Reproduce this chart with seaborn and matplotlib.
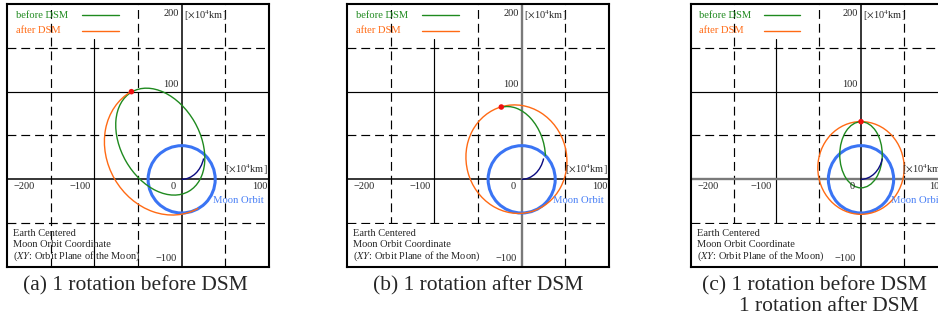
import matplotlib
matplotlib.use("Agg")
import matplotlib.pyplot as plt
import seaborn as sns
import pandas as pd
from matplotlib.patches import Ellipse, Arc, Rectangle
from matplotlib.transforms import offset_copy

# ---------------- data (units: x10^4 km) ----------------
X_LIM = [-200, 100]
Y_LIM = [-100, 200]
x_tick_values = [-200, -100, 0, 100]
x_tick_labels = ["\u2212200", "\u2212100", "0", "100"]
y_tick_values = [200, 100, -100]
y_tick_labels = ["200", "100", "\u2212100"]
solid_grid_x = [-100]
solid_grid_y = [100]
dashed_grid_x = [-150, -50, 50]
dashed_grid_y = [150, 50, -50]

moon_orbit_radius = 38.4
# Earth -> Moon transfer arc: cx, cy, width, height, theta1, theta2
transfer_arc = [0.0, 32.0, 52.0, 64.0, 270.0, 342.0]

# orbits: cx, cy, width, height, angle(deg) [, theta1, theta2]
green_a = [-24.5, 43.0, 130.8, 90.4, 120.0]
orange_a = [-19.4, 33.6, 153.6, 132.6, 120.0, 0.0, 180.0]
dsm_a_x = [-57.5]
dsm_a_y = [100.0]

green_b = [-9.7, 33.9, 100.2, 71.2, 106.0, 243.0, 360.0]
orange_b = [-6.0, 23.0, 124.4, 115.0, 105.0]
dsm_b_x = [-23.3]
dsm_b_y = [82.5]

green_c = [0.0, 28.0, 75.4, 50.0, 90.0]
orange_c = [0.0, 13.0, 105.8, 101.6, 90.0]
dsm_c_x = [0.0]
dsm_c_y = [65.8]

legend_labels = ["before DSM", "after DSM"]
note_lines = ["Earth Centered", "Moon Orbit Coordinate",
              r"($\mathit{XY}$: Orbit Plane of the Moon)"]
unit_label = r"[$\times$10$^{4}$km]"
captions = ["(a) 1 rotation before DSM", "(b) 1 rotation after DSM",
            "(c) 1 rotation before DSM", "1 rotation after DSM"]

# ---------------- style ----------------
sns.set_theme(style="white")
plt.rcParams["font.family"] = ["Liberation Serif", "DejaVu Serif"]
plt.rcParams["mathtext.fontset"] = "stix"

GREEN = "#1f8a1f"
ORANGE = "#ff6a14"
BLUE = "#3a74f4"
BLUE_TXT = "#4a80f6"
NAVY = "#0a0a80"
RED = "#ee1111"
FS = 7.5

W, H = 938, 322
fig = plt.figure(figsize=(W / 100, H / 100), dpi=100)


def px_rect(left, right, top, bottom):
    return [left / W, (H - bottom) / H, (right - left) / W, (bottom - top) / H]


def draw_panel(ax, axis_gray, white_box):
    ax.set_xlim(X_LIM)
    ax.set_ylim(Y_LIM)
    ax.set_xticks([])
    ax.set_yticks([])
    for s in ax.spines.values():
        s.set_color("black")
        s.set_linewidth(1.5)
        s.set_zorder(10)
    dash = (0, (7.5, 4.2))
    for v in dashed_grid_x:
        ax.axvline(v, color="black", lw=0.85, ls=dash, zorder=1)
    for v in dashed_grid_y:
        ax.axhline(v, color="black", lw=0.85, ls=dash, zorder=1)
    for v in solid_grid_x:
        ax.plot([v, v], [Y_LIM[0], 160], color="black", lw=0.85, zorder=1)
    for v in solid_grid_y:
        ax.axhline(v, color="black", lw=0.85, zorder=1)
    if white_box:
        ax.add_patch(Rectangle((X_LIM[0], Y_LIM[0]), 0 - X_LIM[0], -50 - Y_LIM[0] - 1,
                               facecolor="white", edgecolor="none", zorder=1.5))
    xc = "#7a7a7a" if axis_gray == "x" else "black"
    yc = "#7a7a7a" if axis_gray == "y" else "black"
    ax.axhline(0, color=xc, lw=1.7 if axis_gray == "x" else 1.1, zorder=2)
    ax.axvline(0, color=yc, lw=1.7 if axis_gray == "y" else 1.1, zorder=2)

    # moon orbit
    ax.add_patch(Ellipse((0, 0), 2 * moon_orbit_radius, 2 * moon_orbit_radius,
                         fill=False, edgecolor=BLUE, lw=2.2, zorder=3))
    # transfer
    cx, cy, w, h, t1, t2 = transfer_arc
    ax.add_patch(Arc((cx, cy), w, h, theta1=t1, theta2=t2, color=NAVY, lw=1.0, zorder=5))

    # ticks labels
    def off(dx, dy):
        return offset_copy(ax.transData, fig=fig, x=dx, y=dy, units="dots")

    ax.text(x_tick_values[0], 0, x_tick_labels[0], transform=off(6, -3),
            ha="left", va="top", fontsize=FS, zorder=8)
    ax.text(x_tick_values[1], 0, x_tick_labels[1], transform=off(-4, -3),
            ha="right", va="top", fontsize=FS, zorder=8)
    ax.text(x_tick_values[2], 0, x_tick_labels[2], transform=off(-6, -3),
            ha="right", va="top", fontsize=FS, zorder=8)
    ax.text(x_tick_values[3], 0, x_tick_labels[3], transform=off(-1, -3),
            ha="right", va="top", fontsize=FS, zorder=8)
    ax.text(0, y_tick_values[0], y_tick_labels[0], transform=off(-3, -5),
            ha="right", va="top", fontsize=FS, zorder=8)
    ax.text(0, y_tick_values[1], y_tick_labels[1], transform=off(-3, 3),
            ha="right", va="bottom", fontsize=FS, zorder=8)
    ax.text(0, y_tick_values[2], y_tick_labels[2], transform=off(-5, 4),
            ha="right", va="bottom", fontsize=FS, zorder=8)
    ax.text(0, Y_LIM[1], unit_label, transform=off(2, -4),
            ha="left", va="top", fontsize=FS, zorder=8)
    ax.text(X_LIM[1], 0, unit_label, transform=off(-1, 2),
            ha="right", va="bottom", fontsize=FS, zorder=8)
    ax.text(35.5, -24.4, "Moon Orbit", color=BLUE_TXT, ha="left", va="center",
            fontsize=FS + 0.2, zorder=8)

    # legend (text left, line right)
    for lab, col, yy in zip(legend_labels, [GREEN, ORANGE], [0.958, 0.899]):
        ax.text(0.033, yy, lab, color=col, transform=ax.transAxes, ha="left",
                va="center", fontsize=FS + 0.1, zorder=8)
        ax.plot([0.285, 0.429], [yy, yy], color=col, lw=1.0,
                transform=ax.transAxes, zorder=8)

    for line, yy in zip(note_lines, [0.128, 0.084, 0.040]):
        ax.text(0.024, yy, line, transform=ax.transAxes, ha="left", va="center",
                fontsize=FS, zorder=8)


ax_a = fig.add_axes(px_rect(7, 269, 4, 267))
ax_b = fig.add_axes(px_rect(347, 609, 4, 267))
ax_c = fig.add_axes(px_rect(691, 946, 4, 267))

draw_panel(ax_a, None, False)
draw_panel(ax_b, "y", True)
draw_panel(ax_c, "x", True)

# panel a
cx, cy, w, h, ang = green_a
ax_a.add_patch(Ellipse((cx, cy), w, h, angle=ang, fill=False, edgecolor=GREEN, lw=1.0, zorder=4))
cx, cy, w, h, ang, t1, t2 = orange_a
ax_a.add_patch(Arc((cx, cy), w, h, angle=ang, theta1=t1, theta2=t2, color=ORANGE, lw=1.0, zorder=4))
sns.scatterplot(data=pd.DataFrame({"x": dsm_a_x, "y": dsm_a_y}), x="x", y="y", ax=ax_a,
                color=RED, s=16, edgecolor="none", zorder=7, legend=False)

# panel b
cx, cy, w, h, ang = orange_b
ax_b.add_patch(Ellipse((cx, cy), w, h, angle=ang, fill=False, edgecolor=ORANGE, lw=1.0, zorder=4))
cx, cy, w, h, ang, t1, t2 = green_b
ax_b.add_patch(Arc((cx, cy), w, h, angle=ang, theta1=t1, theta2=t2, color=GREEN, lw=1.0, zorder=4.5))
sns.scatterplot(data=pd.DataFrame({"x": dsm_b_x, "y": dsm_b_y}), x="x", y="y", ax=ax_b,
                color=RED, s=16, edgecolor="none", zorder=7, legend=False)

# panel c
cx, cy, w, h, ang = orange_c
ax_c.add_patch(Ellipse((cx, cy), w, h, angle=ang, fill=False, edgecolor=ORANGE, lw=1.0, zorder=4))
cx, cy, w, h, ang = green_c
ax_c.add_patch(Ellipse((cx, cy), w, h, angle=ang, fill=False, edgecolor=GREEN, lw=1.0, zorder=4.5))
sns.scatterplot(data=pd.DataFrame({"x": dsm_c_x, "y": dsm_c_y}), x="x", y="y", ax=ax_c,
                color=RED, s=16, edgecolor="none", zorder=7, legend=False)

for ax in (ax_a, ax_b, ax_c):
    ax.set_xlabel("")
    ax.set_ylabel("")
    ax.set_xlim(X_LIM)
    ax.set_ylim(Y_LIM)

CAP = 15.5
fig.text(135.5 / W, 1 - 286 / H, captions[0], ha="center", va="center", fontsize=CAP)
fig.text(478.5 / W, 1 - 286 / H, captions[1], ha="center", va="center", fontsize=CAP)
fig.text(701.7 / W, 1 - 286 / H, captions[2], ha="left", va="center", fontsize=CAP)
fig.text(739.0 / W, 1 - 306.5 / H, captions[3], ha="left", va="center", fontsize=CAP)

fig.savefig("out.png", dpi=100)
